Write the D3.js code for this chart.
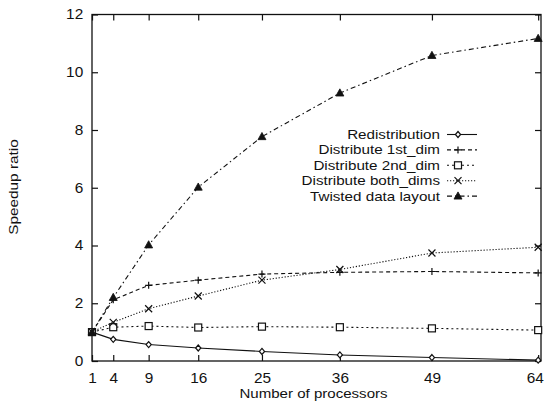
<!DOCTYPE html>
<html><head><meta charset="utf-8">
<script src="https://cdn.jsdelivr.net/npm/d3@7"></script>
<style>
body{margin:0;background:#fff}
text{font-family:"Liberation Sans",Arial,Helvetica,sans-serif;fill:#111}
</style></head><body>
<svg id="c" width="544" height="403"></svg>
<script>
const processors = [1, 4, 9, 16, 25, 36, 49, 64];
const xTickLabels = ["1","4","9","16","25","36","49","64"];
const yTicks = [0, 2, 4, 6, 8, 10, 12];
const seriesNames = ["Redistribution","Distribute 1st_dim","Distribute 2nd_dim","Distribute both_dims","Twisted data layout"];
const redistribution = [1.0, 0.75, 0.57, 0.45, 0.33, 0.21, 0.12, 0.03];
const distribute1st = [1.0, 2.12, 2.62, 2.8, 3.01, 3.07, 3.1, 3.05];
const distribute2nd = [1.0, 1.17, 1.21, 1.16, 1.19, 1.17, 1.13, 1.07];
const distributeBoth = [1.0, 1.34, 1.81, 2.25, 2.8, 3.17, 3.74, 3.94];
const twisted = [1.0, 2.2, 4.02, 6.02, 7.77, 9.28, 10.58, 11.17];

const seriesValues = [redistribution, distribute1st, distribute2nd, distributeBoth, twisted];
const dashes = [null, "4,3", "2,3", "1.2,1.8", "5,3,1.5,3"];
const markers = ["diamond","plus","square","cross","triangle"];

const svg = d3.select("#c");
const x = d3.scaleLinear().domain([1, 64.4]).range([92, 541]);
const y = d3.scaleLinear().domain([0, 12]).range([361, 14.5]);
const [x0, x1] = x.range();
const [y0, y1] = y.range();
const FONT = '"Liberation Sans",Arial,Helvetica,sans-serif';

// frame
svg.append("rect").attr("x", x0).attr("y", y1).attr("width", x1 - x0).attr("height", y0 - y1)
  .attr("fill", "none").attr("stroke", "#111").attr("stroke-width", 1.3);

// axes with inward ticks
const tl = 6;
const gB = svg.append("g").attr("transform", `translate(0,${y0})`)
  .call(d3.axisBottom(x).tickValues(processors).tickFormat((d,i)=>xTickLabels[i]).tickSize(-tl).tickPadding(12));
const gT = svg.append("g").attr("transform", `translate(0,${y1})`)
  .call(d3.axisTop(x).tickValues(processors).tickFormat("").tickSize(-tl));
const gL = svg.append("g").attr("transform", `translate(${x0},0)`)
  .call(d3.axisLeft(y).tickValues(yTicks).tickFormat(d3.format("d")).tickSize(-tl).tickPadding(8));
const gR = svg.append("g").attr("transform", `translate(${x1},0)`)
  .call(d3.axisRight(y).tickValues(yTicks).tickFormat("").tickSize(-tl));
[gB, gT, gL, gR].forEach(g => {
  g.select(".domain").remove();
  g.selectAll(".tick line").attr("stroke", "#111").attr("stroke-width", 1.2);
  g.selectAll("text").attr("font-size", 14).attr("font-family", FONT).attr("fill", "#111")
    .attr("transform", "scale(1.1,1)");
});
gB.selectAll("text").attr("dy", "0.71em");
gB.selectAll("text").filter((d) => d === 64).attr("x", -3);

// axis labels
svg.append("text").attr("transform", `translate(${(x0 + x1) / 2 - 3},398) scale(1.16,1)`).attr("text-anchor", "middle")
  .attr("font-size", 13).text("Number of processors");
svg.append("text").attr("transform", "translate(18,187) rotate(-90) scale(1.18,1)").attr("text-anchor", "middle")
  .attr("font-size", 13).text("Speedup ratio");

function drawMarker(g, type, cx, cy) {
  const s = 3.5;
  if (type === "diamond") {
    g.append("path").attr("d", `M${cx},${cy-3}L${cx+2.6},${cy}L${cx},${cy+3}L${cx-2.6},${cy}Z`)
      .attr("fill", "#fff").attr("stroke", "#111").attr("stroke-width", 1.2);
  } else if (type === "plus") {
    g.append("path").attr("d", `M${cx-s},${cy}H${cx+s}M${cx},${cy-s}V${cy+s}`)
      .attr("stroke", "#111").attr("stroke-width", 1.2);
  } else if (type === "square") {
    g.append("rect").attr("x", cx - 3.5).attr("y", cy - 3.5).attr("width", 7).attr("height", 7)
      .attr("fill", "#fff").attr("stroke", "#111").attr("stroke-width", 1.2);
  } else if (type === "cross") {
    g.append("path").attr("d", `M${cx-s},${cy-s}L${cx+s},${cy+s}M${cx-s},${cy+s}L${cx+s},${cy-s}`)
      .attr("stroke", "#111").attr("stroke-width", 1.2);
  } else if (type === "triangle") {
    g.append("path").attr("d", `M${cx},${cy-4.2}L${cx+4},${cy+3}L${cx-4},${cy+3}Z`)
      .attr("fill", "#111").attr("stroke", "#111").attr("stroke-width", 0.8);
  }
}

const line = d3.line().x((d, i) => x(processors[i])).y(d => y(d));
seriesValues.forEach((vals, k) => {
  const g = svg.append("g");
  g.append("path").datum(vals).attr("d", line).attr("fill", "none")
    .attr("stroke", "#111").attr("stroke-width", 1.1)
    .attr("stroke-dasharray", dashes[k]);
  vals.forEach((v, i) => drawMarker(g, markers[k], x(processors[i]), y(v)));
});

// legend
const legY0 = 134.5, legDy = 15.4;
seriesNames.forEach((name, k) => {
  const ly = legY0 + k * legDy;
  svg.append("text").attr("transform", `translate(440,${ly}) scale(1.17,1)`).attr("dy", "0.35em")
    .attr("text-anchor", "end").attr("font-size", 13).text(name);
  const g = svg.append("g");
  g.append("line").attr("x1", 447).attr("x2", 477).attr("y1", ly).attr("y2", ly)
    .attr("stroke", "#111").attr("stroke-width", 1.1).attr("stroke-dasharray", dashes[k]);
  drawMarker(g, markers[k], 458, ly);
});
</script>
</body></html>
